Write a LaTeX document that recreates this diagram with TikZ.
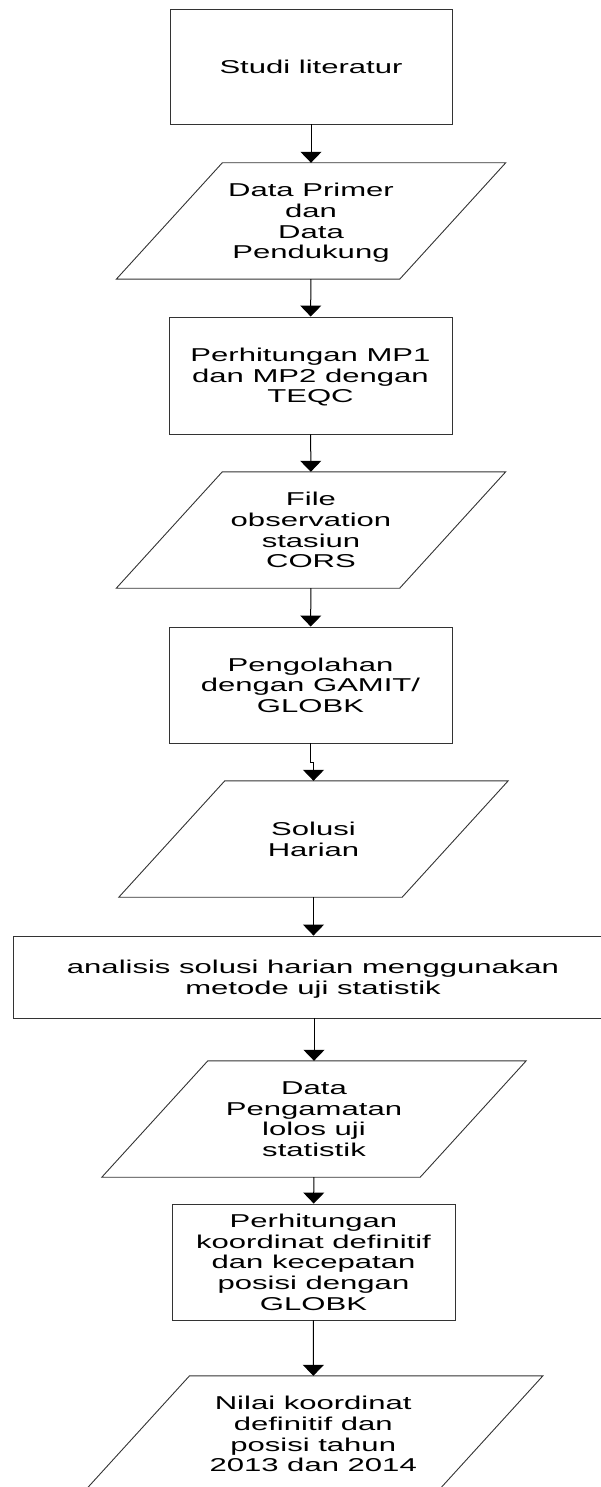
\documentclass[tikz,border=0pt]{standalone}
\usepackage{fontspec}
\setmainfont{Liberation Sans}[FakeStretch=1.67]
\usetikzlibrary{arrows.meta}

\newcommand{\teks}{\fontsize{18.6}{20.7}\selectfont}

\begin{document}
\begin{tikzpicture}[x=1pt,y=-1pt,
	kotak/.style={draw=black!80, line width=0.9pt, minimum width=283pt, minimum height=116pt, inner sep=0pt, text depth=0pt, align=center, font=\teks},
	masukan/.style={minimum width=#1, minimum height=116pt, inner sep=0pt, text depth=0pt, align=center, font=\teks},
	garis/.style={draw=black!80, line width=0.9pt},
	panah/.style={line width=1pt, -{Triangle[length=11pt,width=21pt]}}]

%Ukuran
\def \miring{53pt}

\useasboundingbox (0,0) rectangle (601,1487);
\clip (0,0) rectangle (601,1487);

%Proses dan data
\node[kotak, minimum width=282pt, minimum height=115pt] (studi) at (311,66.5) {Studi literatur};
\node[masukan=283pt] (primer) at (311,221) {Data Primer\\dan\\Data\\Pendukung};
\node[kotak, minimum height=117pt] (mp) at (310.5,375.5) {Perhitungan MP1\\dan MP2 dengan\\TEQC};
\node[masukan=283pt] (cors) at (311,530) {File\\observation\\stasiun\\CORS};
\node[kotak] (gamit) at (310.5,685) {Pengolahan\\dengan GAMIT/\\GLOBK};
\node[masukan=283pt] (harian) at (313.5,839) {Solusi\\Harian};
\node[kotak, minimum width=600pt, minimum height=82pt] (analisis) at (313,977) {analisis solusi harian menggunakan\\metode uji statistik};
\node[masukan=318pt] (lolos) at (314,1119) {Data\\Pengamatan\\lolos uji\\statistik};
\node[kotak] (globk) at (313.5,1262) {Perhitungan\\koordinat definitif\\dan kecepatan\\posisi dengan\\GLOBK};
\node[masukan=353pt] (nilai) at (313.2,1434) {Nilai koordinat\\definitif dan\\posisi tahun\\2013 dan 2014};

%Jajaran genjang
\draw[garis] ([xshift=\miring]primer.north west) -- ([xshift=\miring]primer.north east) -- ([xshift=-\miring]primer.south east) -- ([xshift=-\miring]primer.south west) -- cycle;
\draw[garis] ([xshift=\miring]cors.north west) -- ([xshift=\miring]cors.north east) -- ([xshift=-\miring]cors.south east) -- ([xshift=-\miring]cors.south west) -- cycle;
\draw[garis] ([xshift=\miring]harian.north west) -- ([xshift=\miring]harian.north east) -- ([xshift=-\miring]harian.south east) -- ([xshift=-\miring]harian.south west) -- cycle;
\draw[garis] ([xshift=\miring]lolos.north west) -- ([xshift=\miring]lolos.north east) -- ([xshift=-\miring]lolos.south east) -- ([xshift=-\miring]lolos.south west) -- cycle;
\draw[garis] ([xshift=\miring]nilai.north west) -- ([xshift=\miring]nilai.north east) -- ([xshift=-\miring]nilai.south east) -- ([xshift=-\miring]nilai.south west) -- cycle;

%Panah
\draw[panah] (studi) -- (primer);
\draw[panah] (primer) -- (mp);
\draw[panah] (mp) -- (cors);
\draw[panah] (cors) -- (gamit);
\draw[panah] (gamit.south) -- ++(0,19) -| (harian.north);
\draw[panah] (harian) -- (harian |- analisis.north);
\draw[panah] (analisis.south -| lolos) -- (lolos);
\draw[panah] (lolos) -- (globk);
\draw[panah] (globk) -- (nilai);

\end{tikzpicture}
\end{document}
